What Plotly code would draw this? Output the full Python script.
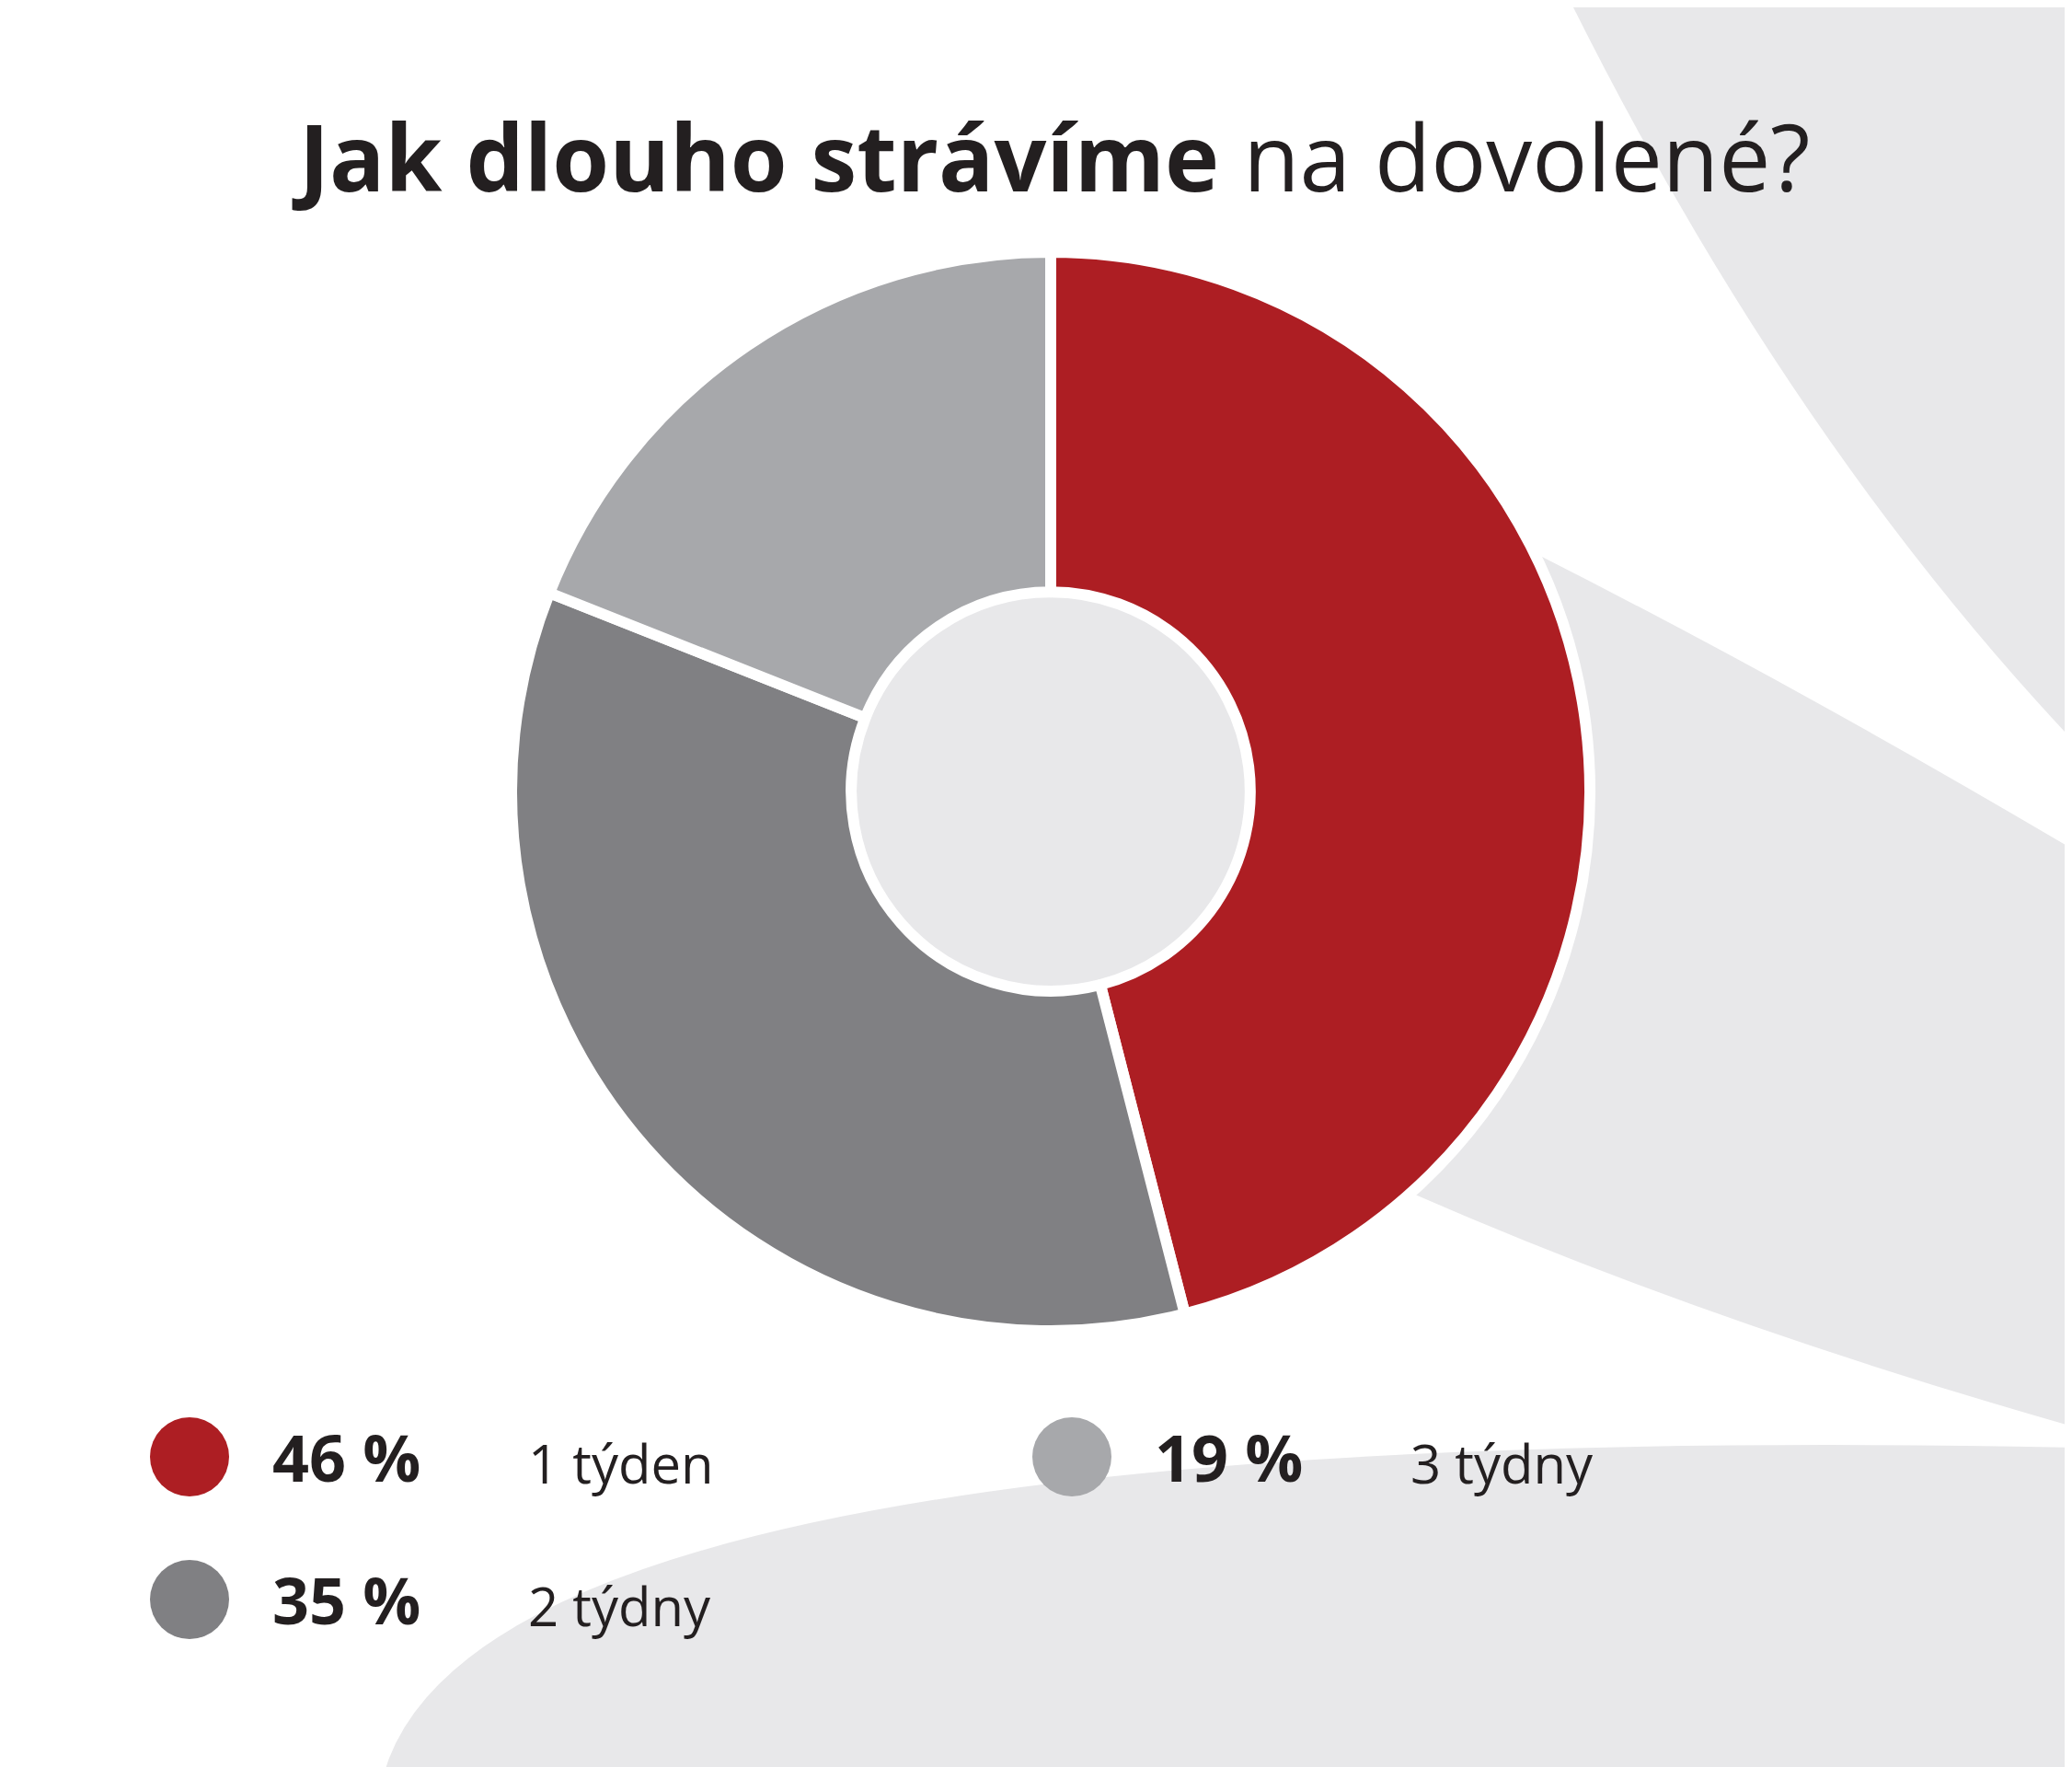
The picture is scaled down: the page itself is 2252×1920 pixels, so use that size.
import plotly.graph_objects as go

labels = ["1 týden", "2 týdny", "3 týdny"]
values = [46, 35, 19]
colors = ["#ad1e23", "#808083", "#a7a8ab"]
title_bold = "Jak dlouho strávíme"
title_rest = "na dovolené?"

W, H = 2252, 1920
BG = "#e8e8ea"
FONT = "Open Sans"

fig = go.Figure()
fig.add_trace(go.Pie(
    labels=labels, values=values, sort=False, direction="clockwise", rotation=0,
    hole=0.37, marker=dict(colors=colors, line=dict(color="white", width=12)),
    textinfo="none", hoverinfo="label+percent", showlegend=False,
    domain=dict(x=[548 / W, 1720 / W], y=[1 - 1438 / H, 1 - 266 / H]),
))

# legend markers + texts
leg_pos = [(198, 1575), (198, 1730), (1157, 1575)]
fig.add_trace(go.Scatter(
    x=[p[0] for p in leg_pos], y=[p[1] for p in leg_pos], mode="markers",
    marker=dict(size=86, color=colors, line=dict(width=0)),
    showlegend=False, hoverinfo="skip", xaxis="x", yaxis="y"))
for (px, py), v, lab in zip(leg_pos, values, labels):
    fig.add_annotation(x=px + 88, y=py, xref="x", yref="y", text=f"<b>{v} %</b>",
                       showarrow=False, xanchor="left", yanchor="middle",
                       font=dict(family=FONT, size=70, color="#231f20"))
    fig.add_annotation(x=px + 366, y=py + 6, xref="x", yref="y", text=lab,
                       showarrow=False, xanchor="left", yanchor="middle",
                       font=dict(family=FONT, size=58, color="#231f20"))

fig.add_annotation(x=1134, y=161, xref="x", yref="y",
                   text=f"<b>{title_bold}</b> {title_rest}", showarrow=False,
                   xanchor="center", yanchor="middle",
                   font=dict(family=FONT, size=100, color="#231f20"))

shapes = [
    dict(type="path", path="M 1702,0 Q 1939,474 2252,804 L 2252,0 Z"),
    dict(type="path", path="M 1134,852 L 1666,596 Q 1950,740 2252,919 L 2252,1544 Q 1850,1430 1530,1290 Z"),
    dict(type="path", path="M 409,1920 Q 520,1530 2252,1565 L 2252,1920 Z"),
    dict(type="circle", x0=1134 - 216, x1=1134 + 216, y0=852 - 216, y1=852 + 216),
]
for s in shapes:
    s.update(xref="x", yref="y", fillcolor=BG, line=dict(width=0), layer="below")

fig.update_layout(
    width=W, height=H, margin=dict(l=0, r=0, t=0, b=0),
    paper_bgcolor="white", plot_bgcolor="rgba(0,0,0,0)", shapes=shapes,
    xaxis=dict(range=[0, W], visible=False, domain=[0, 1], fixedrange=True),
    yaxis=dict(range=[H, 0], visible=False, domain=[0, 1], fixedrange=True),
)
fig.write_html("out.html")
